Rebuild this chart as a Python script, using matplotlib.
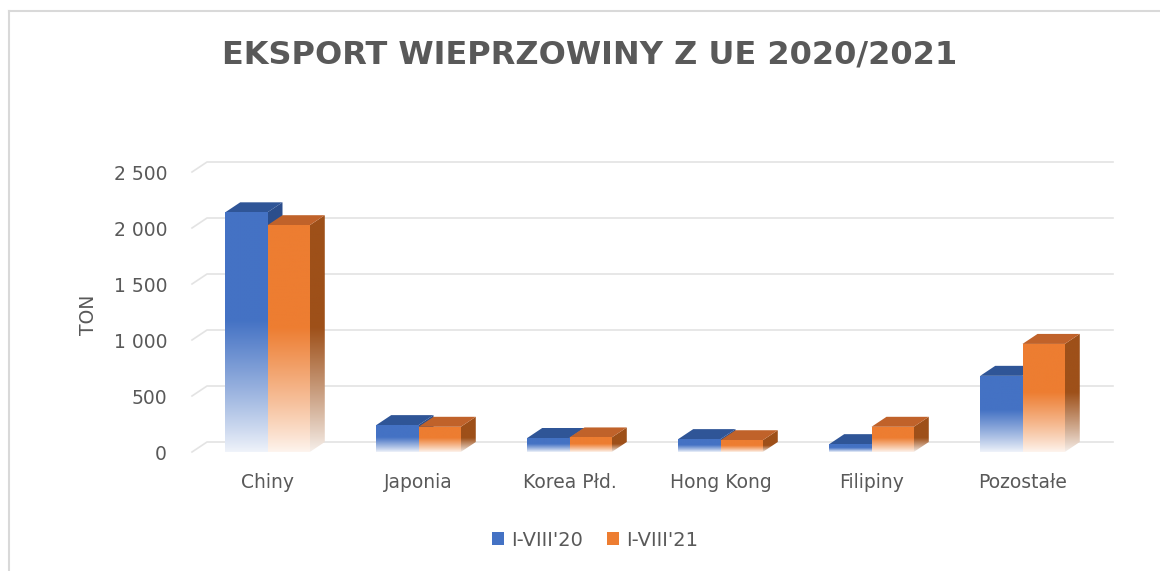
import numpy as np
import matplotlib
matplotlib.use("Agg")
import matplotlib.pyplot as plt
from matplotlib.patches import Polygon, Patch
from matplotlib.colors import to_rgb
from matplotlib.lines import Line2D

categories = ["Chiny", "Japonia", "Korea Płd.", "Hong Kong", "Filipiny", "Pozostałe"]
series_names = ["I-VIII'20", "I-VIII'21"]
export_2020 = [2140, 240, 125, 115, 70, 680]
export_2021 = [2025, 225, 130, 105, 225, 965]
y_ticks = [0, 500, 1000, 1500, 2000, 2500]

FRONT = ["#4472C4", "#ED7D31"]
TOP = ["#2F5597", "#C0622A"]
SIDE = ["#2B4E8C", "#9E5019"]
GRID = "#E3E3E3"
TEXT = "#595959"

plt.rcParams["font.family"] = ["DejaVu Sans"]

W, H = 1160, 571
fig = plt.figure(figsize=(W / 100, H / 100), dpi=100)
# front plane of the pseudo-3D plot area, in pixels
left, right, bottom, top = 192, 1098, 452, 172
ax = fig.add_axes([left / W, 1 - bottom / H, (right - left) / W, (bottom - top) / H])
for s in ax.spines.values():
    s.set_visible(False)

xmin, xmax, ymax = -0.5, len(categories) - 0.5, 2500
# depth offset (15px right, 10px up) converted to data units
dx = 15 * (xmax - xmin) / (right - left)
dy = 10 * ymax / (bottom - top)

# back wall grid + floor slant
for v in y_ticks:
    ax.plot([xmin, xmin + dx, xmax + dx], [v, v + dy, v + dy], color=GRID, lw=1.2,
            clip_on=False, zorder=0)


def faded_face(verts, color, h, zorder, frac=0.55, amin=0.08):
    poly = Polygon(verts, closed=True, facecolor="none", edgecolor="none", zorder=zorder)
    ax.add_patch(poly)
    xs = [p[0] for p in verts]
    ys = [p[1] for p in verts]
    y0, y1 = min(ys), max(ys)
    yy = np.linspace(y0, y1, 300)
    t = np.clip(yy / (frac * h), 0, 1)
    a = amin + (1 - amin) * t ** 0.9
    c = np.array(to_rgb(color))
    rows = (1 - a)[:, None] * 1.0 + a[:, None] * c[None, :]
    im = ax.imshow(rows[:, None, :], extent=(min(xs), max(xs), y0, y1), origin="lower",
                   aspect="auto", interpolation="bilinear", zorder=zorder)
    im.set_clip_path(poly)


bw = 0.28
series = [export_2020, export_2021]
for i in range(len(categories)):
    for k, vals in enumerate(series):
        h = vals[i]
        x0 = i - bw + k * bw
        x1 = x0 + bw
        z = 2 + k
        faded_face([(x0, 0), (x1, 0), (x1, h), (x0, h)], FRONT[k], h, z + 0.2)
        faded_face([(x1, 0), (x1 + dx, dy), (x1 + dx, h + dy), (x1, h)], SIDE[k], h, z + 0.1)
        ax.add_patch(Polygon([(x0, h), (x1, h), (x1 + dx, h + dy), (x0 + dx, h + dy)],
                             closed=True, facecolor=TOP[k], edgecolor="none", zorder=z + 0.1))

ax.set_xlim(xmin, xmax)
ax.set_ylim(0, ymax)
ax.set_xticks(range(len(categories)))
ax.set_xticklabels(categories)
ax.set_yticks(y_ticks)
ax.set_yticklabels([f"{v:,}".replace(",", " ") for v in y_ticks])
ax.tick_params(axis="y", length=0, pad=18, labelsize=13.5, labelcolor=TEXT)
ax.tick_params(axis="x", length=0, pad=15, labelsize=13.5, labelcolor=TEXT)

fig.text(590 / W, 1 - 55 / H, "EKSPORT WIEPRZOWINY Z UE 2020/2021", ha="center",
         va="center", fontsize=23, weight="bold", color=TEXT)
fig.text(88 / W, 1 - 315 / H, "TON", rotation=90, ha="center", va="center",
         fontsize=13.5, color=TEXT)

handles = [Patch(facecolor=c, edgecolor="none") for c in FRONT]
fig.legend(handles, series_names, loc="center", bbox_to_anchor=(595 / W, 1 - 540 / H),
           ncol=2, frameon=False, handlelength=0.62, handleheight=0.6, handletextpad=0.4,
           columnspacing=1.2, fontsize=14, labelcolor=TEXT)

# chart border (top and left edges visible)
fig.add_artist(Line2D([9 / W, 1], [1 - 11 / H] * 2, transform=fig.transFigure,
                      color="#D9D9D9", lw=1.5))
fig.add_artist(Line2D([9 / W] * 2, [0, 1 - 11 / H], transform=fig.transFigure,
                      color="#D9D9D9", lw=1.5))

fig.savefig("out.png", dpi=100, facecolor="white")
